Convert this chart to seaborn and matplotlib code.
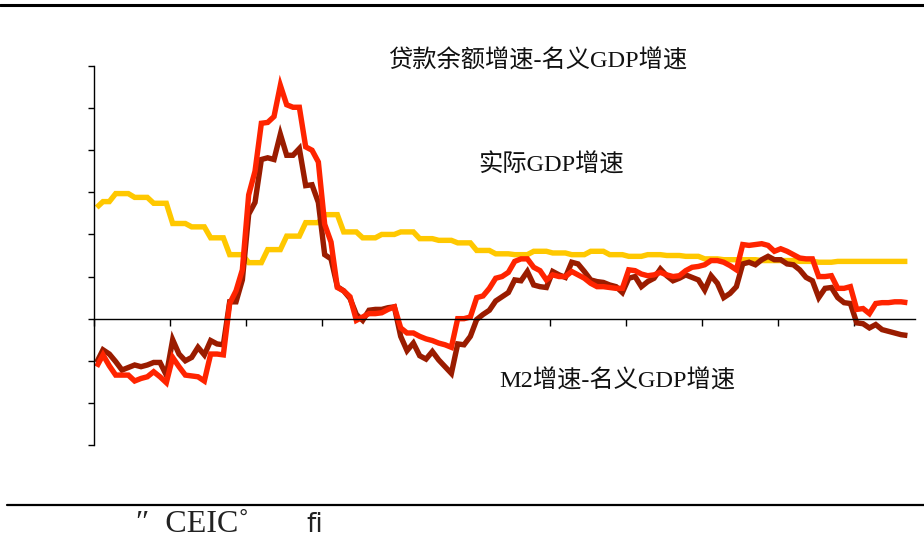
import numpy as np
import pandas as pd
import matplotlib
matplotlib.use("Agg")
import matplotlib.pyplot as plt
import seaborn as sns

# ---------------- data (monthly) ----------------
real_gdp = [13.2, 13.9, 13.9, 14.85, 14.85, 14.85, 14.4, 14.4, 14.4, 13.7, 13.7, 13.7,
            11.3, 11.3, 11.3, 10.9, 10.9, 10.9, 9.6, 9.6, 9.6, 7.6, 7.6, 7.6,
            6.65, 6.65, 6.65, 8.2, 8.2, 8.2, 9.8, 9.8, 9.8, 11.4, 11.4, 11.4,
            12.35, 12.35, 12.35, 10.3, 10.3, 10.3, 9.6, 9.6, 9.6, 10.0, 10.0, 10.0,
            10.3, 10.3, 10.3, 9.5, 9.5, 9.5, 9.3, 9.3, 9.3, 9.0, 9.0, 9.0,
            8.1, 8.1, 8.1, 7.7, 7.7, 7.7, 7.6, 7.6, 7.6, 8.0, 8.0, 8.0,
            7.8, 7.8, 7.8, 7.6, 7.6, 7.6, 8.0, 8.0, 8.0, 7.6, 7.6, 7.6,
            7.4, 7.4, 7.4, 7.6, 7.6, 7.6, 7.5, 7.5, 7.5, 7.4, 7.4, 7.4,
            7.1, 7.1, 7.1, 7.0, 7.0, 7.0, 7.0, 7.0, 7.0, 6.9, 6.9, 6.9,
            6.9, 6.9, 6.9, 6.8, 6.8, 6.8, 6.7, 6.7, 6.7, 6.8, 6.8, 6.8,
            6.8, 6.8, 6.8, 6.8, 6.8, 6.8, 6.8, 6.8, 6.8]

m2_minus_gdp = [-5.2, -3.7, -4.2, -5.1, -6.1, -5.8, -5.5, -5.7, -5.5, -5.2, -5.2, -6.7,
                -2.5, -4.2, -5.0, -4.6, -3.4, -4.3, -2.6, -3.0, -3.1, 2.0, 2.0, 4.6,
                12.4, 13.8, 18.9, 19.1, 18.9, 21.9, 19.4, 19.4, 20.2, 15.8, 15.9, 13.8,
                7.6, 7.1, 3.8, 3.3, 2.4, 0.5, -0.2, 1.0, 1.1, 1.1, 1.3, 1.4,
                -2.1, -3.8, -2.9, -4.4, -4.8, -3.9, -4.9, -5.7, -6.5, -3.0, -3.1, -2.1,
                -0.1, 0.5, 1.0, 2.1, 2.6, 3.1, 4.6, 4.5, 5.6, 4.0, 3.8, 3.7,
                5.6, 5.2, 4.9, 6.7, 6.5, 5.6, 4.6, 4.4, 4.3, 4.0, 3.8, 3.1,
                4.8, 5.0, 3.8, 4.4, 4.8, 5.9, 5.1, 4.5, 4.8, 5.2, 4.9, 4.6,
                3.4, 5.1, 4.2, 2.5, 3.0, 3.8, 6.5, 6.7, 6.4, 7.0, 7.4, 7.0,
                7.0, 6.5, 6.4, 5.8, 4.9, 4.5, 2.5, 3.6, 3.7, 2.5, 1.9, 1.8,
                -0.5, -0.6, -1.1, -0.7, -1.3, -1.5, -1.7, -1.9, -2.0]

loan_minus_gdp = [-5.7, -4.3, -5.6, -6.7, -6.7, -6.7, -7.4, -7.1, -6.9, -6.3, -6.9, -7.6,
                  -4.6, -5.7, -6.7, -6.8, -6.9, -7.4, -4.2, -4.2, -4.3, 1.8, 3.3, 5.8,
                  14.7, 17.5, 23.2, 23.3, 24.0, 27.7, 25.4, 25.1, 25.1, 20.4, 20.0, 18.6,
                  11.2, 9.1, 3.7, 3.3, 2.6, -0.2, 0.2, 0.6, 0.6, 0.7, 1.1, 1.4,
                  -1.1, -1.7, -1.7, -2.1, -2.4, -2.6, -2.9, -3.1, -3.4, 0.0, 0.0, 0.2,
                  2.5, 2.7, 3.6, 4.8, 5.0, 5.5, 6.8, 7.1, 7.1, 6.1, 5.7, 4.6,
                  5.2, 5.0, 5.0, 5.6, 5.2, 4.8, 4.2, 3.8, 3.8, 3.7, 3.6, 3.6,
                  5.8, 5.7, 5.3, 5.1, 5.2, 5.5, 5.2, 5.0, 5.1, 5.7, 6.1, 6.2,
                  6.4, 6.9, 6.9, 6.7, 6.3, 5.8, 8.8, 8.7, 8.8, 8.9, 8.7, 8.0,
                  8.3, 8.0, 7.6, 7.2, 7.1, 7.1, 5.0, 5.0, 5.1, 3.6, 3.6, 3.8,
                  1.1, 1.2, 0.6, 1.8, 1.9, 1.9, 2.0, 2.0, 1.9]

label_loan = "贷款余额增速-名义GDP增速"
label_real = "实际GDP增速"
label_m2 = "M2增速-名义GDP增速"
source_text = "″  CEIC˚"
source_tail = "fi"

# ---------------- figure ----------------
sns.set_style("white")
plt.rcParams['font.family'] = ['Liberation Serif', 'Noto Sans CJK SC', 'DejaVu Sans']

W, H = 924, 547
fig = plt.figure(figsize=(W / 100, H / 100), dpi=100)
ax = fig.add_axes([93.5 / W, 1 - 445 / H, (915 - 93.5) / W, (445 - 66) / H])

n = len(real_gdp)
df = pd.DataFrame({
    "month": np.arange(n),
    "real": real_gdp,
    "m2": m2_minus_gdp,
    "loan": loan_minus_gdp,
})

yellow = "#FFC800"
dark_red = "#9A1C00"
bright_red = "#FF2400"
lw = 3.9

sns.lineplot(data=df, x="month", y="real", ax=ax, color=yellow, lw=lw,
             solid_joinstyle="miter", solid_capstyle="butt")
sns.lineplot(data=df, x="month", y="m2", ax=ax, color=dark_red, lw=lw,
             solid_joinstyle="miter", solid_capstyle="butt")
sns.lineplot(data=df, x="month", y="loan", ax=ax, color=bright_red, lw=lw,
             solid_joinstyle="miter", solid_capstyle="butt")

ax.set_xlim(-0.5, 129.2)
ax.set_ylim(-15, 30)
ax.set_xlabel("")
ax.set_ylabel("")

ax.spines["top"].set_visible(False)
ax.spines["right"].set_visible(False)
ax.spines["bottom"].set_position(("data", 0))
for s in ("left", "bottom"):
    ax.spines[s].set_color("black")
    ax.spines[s].set_linewidth(1.0)

ax.set_yticks(np.arange(-15, 31, 5))
ax.set_xticks(np.arange(-0.5, 121, 12))
ax.tick_params(axis="y", direction="out", length=4.5, width=1, color="black",
               left=True, labelleft=False)
ax.tick_params(axis="x", direction="out", length=5, width=1, color="black",
               bottom=True, labelbottom=False)

# annotations
fs = 17.5
fig.text(538 / W, 1 - 61 / H, label_loan, ha="center", va="center", fontsize=fs, color="#111111")
fig.text(551 / W, 1 - 165 / H, label_real, ha="center", va="center", fontsize=fs, color="#111111")
fig.text(617 / W, 1 - 381 / H, label_m2, ha="center", va="center", fontsize=fs, color="#111111")

# frame rules
fig.add_artist(plt.Line2D([0, 1], [1 - 5 / H, 1 - 5 / H], color="black", lw=2.2,
                          transform=fig.transFigure))
fig.add_artist(plt.Line2D([7 / W, 1], [1 - 505 / H, 1 - 505 / H], color="black", lw=1.6,
                          transform=fig.transFigure))

fig.text(136 / W, 1 - 525 / H, source_text, ha="left", va="center", fontsize=23,
         color="#222222")
fig.text(306 / W, 1 - 525 / H, source_tail, ha="left", va="center", fontsize=19,
         color="#222222", family=["DejaVu Sans"])

fig.savefig("out.png", dpi=100, facecolor="white")
